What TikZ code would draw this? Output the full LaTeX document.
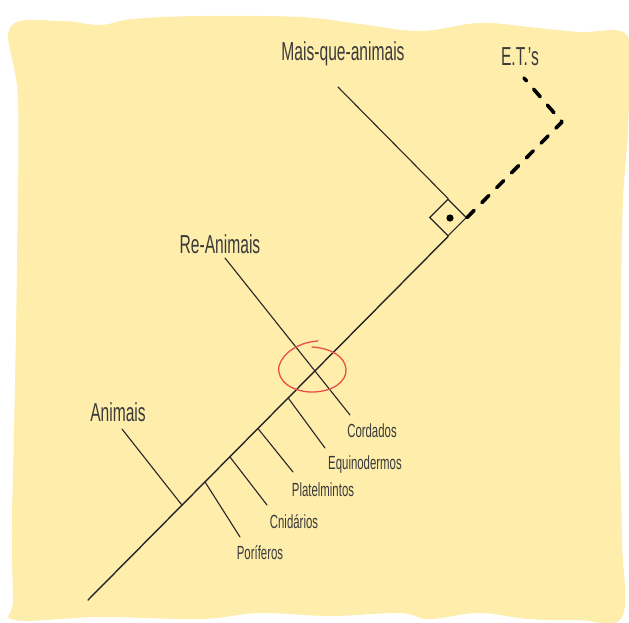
\documentclass[tikz,border=0pt]{standalone}
\usepackage{fontspec}
\setmainfont{Liberation Sans}[FakeStretch=0.6]
\usetikzlibrary{shapes.geometric,calc}
\definecolor{paper}{HTML}{FEEDAB}
\definecolor{ink}{HTML}{3A3A3A}
\definecolor{redmark}{HTML}{E8504A}
\tikzset{
  biglabel/.style={text=ink, inner sep=0pt, font=\fontsize{26}{29}\selectfont},
  smalllabel/.style={text=ink, inner sep=0pt, font=\fontsize{19}{22}\selectfont},
  branch/.style={draw=black!85, line width=1.1pt, line cap=round},
  trunk/.style={draw=black!85, line width=1.4pt, line cap=round},
  etdash/.style={draw=black, line width=3.6pt, line cap=round, line join=round, dash pattern=on 10pt off 11pt},
}
\begin{document}
\begin{tikzpicture}[x=1pt,y=-1pt]
\useasboundingbox (0,0) rectangle (629,622);
% paper
\fill[paper] plot[smooth cycle, tension=0.6] coordinates {
 (10,28) (60,21) (100,25) (133,19) (200,16) (300,17) (360,24) (420,31) (479,23) (529,27) (579,32) (625,33)
 (629,70) (628,130) (623,200) (621,300) (620,433) (622,540) (622,617)
 (579,620) (529,619) (479,613) (429,619) (400,613) (330,616) (260,613) (200,619) (100,617) (15,620)
 (13,600) (12,522) (14,433) (17,267) (18,100)};
% labels
\node[biglabel] (mqa) at (343,54) {Mais-que-animais};
\node[biglabel] (et) at (520,57) {E.T.'s};
\node[biglabel] (rean) at (220,244) {Re-Animais};
\node[biglabel] (anim) at (118,412) {Animais};
\node[smalllabel] (cord) at (372,431) {Cordados};
\node[smalllabel] (equi) at (365,465) {Equinodermos};
\node[smalllabel] (plat) at (323,490) {Platelmintos};
\node[smalllabel] (cnid) at (294,522) {Cnidários};
\node[smalllabel] (pori) at (260,553) {Poríferos};
% box with dot
\node[diamond, aspect=1, draw=black!85, line width=1.1pt, minimum width=37pt, minimum height=37pt, inner sep=0pt] (box) at (448,217.5) {};
\fill[black] (450,218) circle (3.6pt);
% trunk
\coordinate (root) at (88,600);
\draw[trunk] (root) -- (box.south);
% points on trunk
\coordinate (jan) at ($(root)!0.261!(box.south)$);
\coordinate (jpo) at ($(root)!0.325!(box.south)$);
\coordinate (jcn) at ($(root)!0.394!(box.south)$);
\coordinate (jpl) at ($(root)!0.472!(box.south)$);
\coordinate (jeq) at ($(root)!0.556!(box.south)$);
% branch ends
\coordinate (ean) at (122,429);
\coordinate (epo) at (240,537);
\coordinate (ecn) at (267,505);
\coordinate (epl) at (293,472);
\coordinate (eeq) at (325,448);
\coordinate (rs) at (225,258);
\coordinate (re) at (350,415);
\coordinate (ms) at (338,87);
\coordinate (ets) at (524,78);
\coordinate (etc) at (562,122);
% branches
\draw[branch] (ean) -- (jan);
\draw[branch] (jpo) -- (epo);
\draw[branch] (jcn) -- (ecn);
\draw[branch] (jpl) -- (epl);
\draw[branch] (jeq) -- (eeq);
\draw[branch] (rs) -- (re);
\draw[branch] (ms) -- (box.north);
% E.T. dashed
\draw[etdash] (box.east) -- (etc) -- (ets);
% red circle
\draw[redmark, line width=1.3pt, line cap=round]
  (318,341) .. controls (300,342) and (283,352) .. (279,366)
  .. controls (276,382) and (294,392) .. (312,392)
  .. controls (332,392) and (347,382) .. (346,369)
  .. controls (345,356) and (330,348) .. (312,347);
\end{tikzpicture}
\end{document}
